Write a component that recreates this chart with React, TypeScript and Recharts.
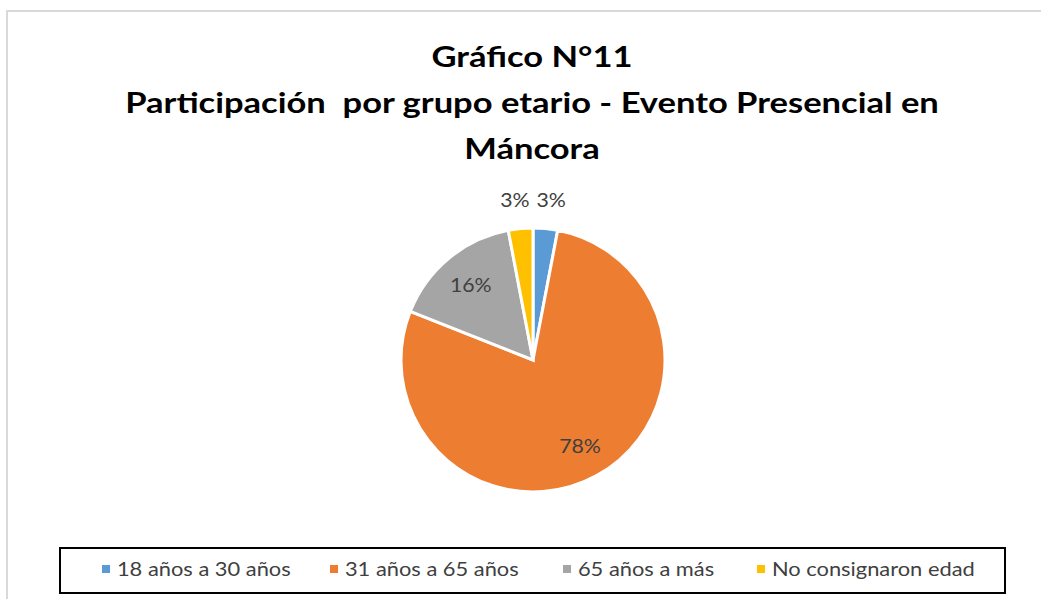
import { Cell, Pie, PieChart } from "recharts";

const categories = [
  "18 años a 30 años",
  "31 años a 65 años",
  "65 años a más",
  "No consignaron edad",
];
const shares = [3, 78, 16, 3];
const colors = ["#5B9BD5", "#ED7D31", "#A5A5A5", "#FFC000"];
const titleLines = [
  "Gráfico N°11",
  "Participación  por grupo etario - Evento Presencial en",
  "Máncora",
];

const data = categories.map((name, i) => ({ name, value: shares[i] }));

const FONT = "Lato, 'Open Sans', sans-serif";
const RAD = Math.PI / 180;

const renderLabel = (props: any) => {
  const { cx, cy, midAngle, outerRadius, percent } = props;
  const small = percent < 0.05;
  const d = small ? outerRadius + 29 : outerRadius * 0.74;
  let x = cx + d * Math.cos(-midAngle * RAD);
  const y = cy + d * Math.sin(-midAngle * RAD);
  // outside labels sit a bit apart, like Excel's best-fit placement
  if (small) x += x > cx ? 3 : -3;
  return (
    <text
      x={0}
      y={0}
      transform={`translate(${x},${y}) scale(1.12,1)`}
      fill="#404040"
      fontSize={19}
      fontFamily={FONT}
      textAnchor="middle"
      dominantBaseline="central"
    >
      {`${Math.round(percent * 100)}%`}
    </text>
  );
};

const LegendBox = () => (
  <div
    style={{
      position: "absolute",
      left: 59,
      top: 547,
      width: 943,
      height: 43,
      border: "2px solid #000",
      fontFamily: FONT,
      fontSize: 19,
      color: "#404040",
    }}
  >
    {categories.map((c, i) => (
      <div
        key={c}
        style={{
          position: "absolute",
          left: [41, 269, 502, 696][i],
          top: -2,
          height: 43,
          display: "flex",
          alignItems: "center",
          whiteSpace: "nowrap",
          transform: "scaleX(1.15)",
          transformOrigin: "left center",
        }}
      >
        <span
          style={{
            width: 7,
            height: 8,
            background: colors[i],
            marginRight: 6,
            display: "inline-block",
          }}
        />
        {c}
      </div>
    ))}
  </div>
);

export default function App() {
  return (
    <div
      style={{
        position: "absolute",
        left: 0,
        top: 0,
        width: 1041,
        height: 599,
        background: "#fff",
        overflow: "hidden",
      }}
    >
      <div
        style={{
          position: "absolute",
          left: 6,
          top: 10,
          width: 1100,
          height: 700,
          borderLeft: "2px solid #d9d9d9",
          borderTop: "2px solid #d9d9d9",
        }}
      />
      <div
        style={{
          position: "absolute",
          left: 0,
          top: 33,
          width: 1064,
          textAlign: "center",
          fontFamily: FONT,
          fontWeight: 700,
          fontSize: 29,
          lineHeight: "46px",
          color: "#000",
          whiteSpace: "pre",
          transform: "scaleX(1.19)",
          transformOrigin: "532px 0",
        }}
      >
        {titleLines.map((t) => (
          <div key={t}>{t}</div>
        ))}
      </div>
      <div style={{ position: "absolute", left: 0, top: 0 }}>
        <PieChart
          width={1041}
          height={599}
          margin={{ top: 0, right: 0, bottom: 0, left: 0 }}
        >
          <Pie
            data={data}
            dataKey="value"
            nameKey="name"
            cx={533}
            cy={360}
            outerRadius={132}
            startAngle={90}
            endAngle={-270}
            stroke="#fff"
            strokeWidth={3}
            label={renderLabel}
            labelLine={false}
            isAnimationActive={false}
          >
            {data.map((d, i) => (
              <Cell key={d.name} fill={colors[i]} />
            ))}
          </Pie>
        </PieChart>
      </div>
      <LegendBox />
    </div>
  );
}
